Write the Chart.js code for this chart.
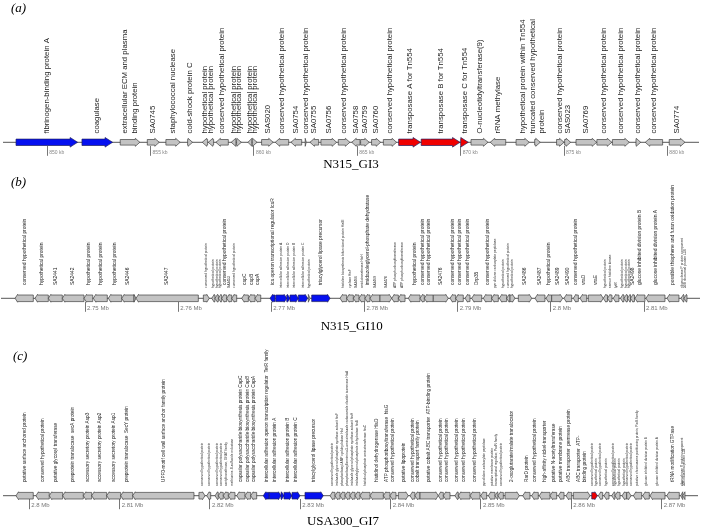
<!DOCTYPE html>
<html>
<head>
<meta charset="utf-8">
<script src="https://cdn.jsdelivr.net/npm/chart.js@4.4.0/dist/chart.umd.min.js"></script>
<style>
  html, body { margin: 0; padding: 0; background: #fff; }
  #wrap { position: relative; width: 702px; height: 529px; }
  #wrap canvas { position: absolute; left: 0; top: 0; }
</style>
</head>
<body>
<div id="wrap">
  <canvas id="gi3" width="702" height="529"></canvas>
  <canvas id="gi10" width="702" height="529"></canvas>
  <canvas id="gi7" width="702" height="529"></canvas>
</div>
<script>
// ---- (a) N315_GI3, positions in kb ----
const gi3Start = [848.49, 851.68, 853.53, 854.84, 855.74, 856.79, 857.50, 857.79, 858.16, 858.90, 859.16, 859.71, 859.92, 860.37, 861.03, 861.79, 862.48, 862.71, 863.24, 864.08, 864.73, 865.16, 865.69, 866.26, 867.00, 868.09, 870.00, 870.50, 871.43, 872.68, 873.58, 874.64, 875.03, 875.58, 876.59, 877.34, 878.48, 878.93, 880.09];
const gi3End = [851.47, 853.16, 854.48, 855.42, 856.43, 857.03, 857.76, 858.05, 858.76, 859.13, 859.39, 859.90, 860.15, 860.93, 861.68, 862.31, 862.53, 863.13, 864.00, 864.64, 865.13, 865.58, 866.13, 866.90, 868.06, 869.97, 870.37, 871.32, 872.18, 873.32, 873.85, 875.00, 875.32, 876.58, 877.31, 878.16, 878.71, 879.77, 880.85];
const gi3Strand = [1, 1, 1, 1, 1, 1, -1, -1, -1, -1, 1, -1, 1, 1, -1, -1, 1, -1, 1, 1, -1, 1, 1, 1, 1, 1, 1, 1, -1, 1, 1, 1, 1, 1, 1, 1, 1, -1, 1];
const gi3Group = ['virulence', 'virulence', 'core', 'core', 'core', 'core', 'core', 'core', 'core', 'core', 'core', 'core', 'core', 'core', 'core', 'core', 'core', 'core', 'core', 'core', 'core', 'core', 'core', 'core', 'mobile', 'mobile', 'mobile', 'core', 'core', 'core', 'core', 'core', 'core', 'core', 'core', 'core', 'core', 'core', 'core'];
const gi3Label = ['fibrinogen-binding protein A', 'coagulase', 'extracellular ECM and plasma\nbinding protein', 'SA0745', 'staphylococcal nuclease', 'cold-shock protein C', 'hypothetical protein', 'hypothetical protein', 'conserved hypothetical protein', 'hypothetical protein', 'hypothetical protein', 'hypothetical protein', 'hypothetical protein', 'SAS020', 'conserved hypothetical protein', 'SA0754', 'conserved hypothetical protein', 'SA0755', 'SA0756', 'conserved hypothetical protein', 'SA0758', 'SA0759', 'SA0760', 'conserved hypothetical protein', 'transposase A for Tn554', 'transposase B for Tn554', 'transposase C for Tn554', 'O-nucleotidyltransferase(9)', 'rRNA methylase', 'hypothetical protein within Tn554', 'truncated conserved hypothetical\nprotein', 'conserved hypothetical protein', 'SAS023', 'SA0769', 'conserved hypothetical protein', 'conserved hypothetical protein', 'conserved hypothetical protein', 'conserved hypothetical protein', 'SA0774'];
const gi3Ticks = [850, 855, 860, 865, 870, 875, 880];
const gi3TickLabels = ['850 kb', '855 kb', '860 kb', '865 kb', '870 kb', '875 kb', '880 kb'];

// ---- (b) N315_GI10, positions in kb ----
const gi10Start = [2742.49, 2744.63, 2746.06, 2747.56, 2749.89, 2750.89, 2752.50, 2753.94, 2755.26, 2755.47, 2762.70, 2763.60, 2763.95, 2764.31, 2764.67, 2765.21, 2765.75, 2766.82, 2767.53, 2768.25, 2769.86, 2770.47, 2771.65, 2772.00, 2772.89, 2773.97, 2774.33, 2777.37, 2778.09, 2778.80, 2779.41, 2780.05, 2780.59, 2781.66, 2782.92, 2783.63, 2784.70, 2785.96, 2786.42, 2787.38, 2789.18, 2789.79, 2790.79, 2791.50, 2792.75, 2793.65, 2794.47, 2795.26, 2795.62, 2796.51, 2798.30, 2799.48, 2800.09, 2801.41, 2802.41, 2803.13, 2804.02, 2805.63, 2806.08, 2806.70, 2807.47, 2807.85, 2808.23, 2808.55, 2809.03, 2810.21, 2812.47, 2813.97, 2814.29];
const gi10End = [2744.45, 2746.06, 2747.56, 2749.89, 2750.83, 2752.39, 2753.94, 2755.26, 2755.47, 2762.16, 2763.34, 2763.95, 2764.31, 2764.67, 2765.21, 2765.75, 2766.28, 2767.53, 2768.25, 2768.86, 2770.39, 2771.65, 2772.00, 2772.89, 2773.90, 2774.15, 2776.30, 2778.09, 2778.80, 2779.41, 2780.05, 2780.59, 2781.66, 2782.92, 2783.63, 2784.35, 2785.96, 2786.42, 2787.38, 2788.99, 2789.79, 2790.60, 2791.32, 2792.58, 2793.65, 2794.36, 2795.26, 2795.62, 2796.15, 2797.95, 2799.37, 2800.09, 2801.27, 2802.24, 2802.95, 2803.85, 2805.63, 2806.08, 2806.56, 2807.31, 2807.85, 2808.23, 2808.55, 2808.98, 2810.10, 2812.25, 2813.75, 2814.29, 2814.61];
const gi10Strand = [-1, -1, -1, -1, -1, -1, -1, -1, 1, -1, 1, -1, -1, -1, -1, -1, -1, -1, -1, -1, -1, 1, 1, 1, 1, 1, 1, -1, -1, -1, -1, -1, -1, 1, -1, -1, -1, -1, -1, 1, -1, -1, -1, -1, -1, -1, -1, -1, 1, 1, -1, -1, 1, -1, -1, -1, 1, -1, -1, -1, -1, -1, -1, -1, -1, -1, -1, -1, -1];
const gi10Group = ['core', 'core', 'core', 'core', 'core', 'core', 'core', 'core', 'core', 'core', 'core', 'core', 'core', 'core', 'core', 'core', 'core', 'core', 'core', 'core', 'virulence', 'virulence', 'virulence', 'virulence', 'virulence', 'core', 'virulence', 'core', 'core', 'core', 'core', 'core', 'core', 'core', 'core', 'core', 'core', 'core', 'core', 'core', 'core', 'core', 'core', 'core', 'core', 'core', 'core', 'core', 'core', 'core', 'core', 'core', 'core', 'core', 'core', 'core', 'core', 'core', 'core', 'core', 'core', 'core', 'core', 'core', 'core', 'core', 'core', 'core', 'core'];
const gi10Label = ['conserved hypothetical protein', 'hypothetical protein', 'SA2441', 'SA2442', 'hypothetical protein', 'hypothetical protein', 'hypothetical protein', 'SA2446', '', 'SA2447', 'conserved hypothetical protein', 'hypothetical protein', 'hypothetical protein', 'hypothetical protein', 'conserved hypothetical protein', 'SA2453', 'conserved hypothetical protein', 'capC', 'capB', 'capA', 'ica operon transcriptional regulator IcaR', 'intercellular adhesion protein A', 'intercellular adhesion protein D', 'intercellular adhesion protein B', 'intercellular adhesion protein C', 'hypothetical protein', 'triacylglycerol lipase precursor', 'histidine biosynthesis bifunctional protein HisIE', 'cyclase HisF', 'SA2466', 'amidotransferase HisH', 'imidazoleglycerol-phosphate dehydratase', 'SA2469', 'SA2470', 'ATP phosphoribosyltransferase', 'ATP phosphoribosyltransferase', 'hypothetical protein', 'conserved hypothetical protein', 'conserved hypothetical protein', 'SA2476', 'conserved hypothetical protein', 'conserved hypothetical protein', 'conserved hypothetical protein', 'Drp35', 'conserved hypothetical protein', 'pyrrolidone carboxylate peptidase', 'hypothetical protein', 'conserved hypothetical protein', 'hypothetical protein', 'SA2486', 'SA2487', 'hypothetical protein', 'SA2489', 'SA2490', 'conserved hypothetical protein', 'vraD', 'vraE', 'hypothetical protein', 'sensor histidine kinase', 'lytR', 'hypothetical protein', 'hypothetical protein', 'hypothetical protein', 'SA2498', 'glucose inhibited division protein B', 'glucose inhibited division protein A', 'possible thiophene and furan oxidation protein', 'ribonuclease P protein component', '50S ribosomal protein L34'];
const gi10Ticks = [2750, 2760, 2770, 2780, 2790, 2800, 2810];
const gi10TickLabels = ['2.75 Mb', '2.76 Mb', '2.77 Mb', '2.78 Mb', '2.79 Mb', '2.8 Mb', '2.81 Mb'];

// ---- (c) USA300_GI7, positions in kb ----
const gi7Start = [2798.53, 2800.74, 2802.21, 2803.70, 2805.98, 2806.91, 2808.57, 2810.12, 2811.45, 2818.78, 2819.64, 2820.56, 2820.92, 2821.47, 2822.03, 2822.96, 2823.88, 2824.51, 2825.90, 2826.56, 2827.86, 2828.19, 2829.08, 2830.52, 2833.29, 2833.84, 2834.40, 2834.95, 2835.50, 2836.06, 2836.61, 2837.72, 2839.19, 2839.93, 2840.85, 2842.14, 2842.69, 2843.25, 2845.27, 2845.83, 2847.12, 2847.49, 2848.79, 2849.97, 2850.81, 2851.55, 2851.88, 2852.66, 2854.62, 2855.61, 2856.45, 2857.64, 2858.56, 2859.41, 2860.22, 2862.26, 2862.99, 2863.61, 2864.47, 2864.83, 2865.61, 2866.13, 2866.87, 2867.90, 2868.71, 2870.56, 2872.11, 2872.33];
const gi7End = [2800.44, 2802.21, 2803.70, 2805.98, 2806.91, 2808.57, 2810.12, 2811.45, 2818.23, 2819.45, 2820.08, 2820.92, 2821.47, 2822.03, 2822.77, 2823.88, 2824.51, 2825.17, 2826.56, 2827.86, 2828.19, 2829.08, 2829.96, 2832.54, 2833.84, 2834.40, 2834.95, 2835.50, 2836.06, 2836.61, 2837.72, 2839.19, 2839.93, 2840.59, 2841.95, 2842.69, 2843.25, 2845.27, 2845.83, 2846.57, 2847.49, 2848.79, 2849.89, 2850.63, 2851.55, 2851.88, 2852.47, 2854.24, 2855.42, 2856.34, 2857.64, 2858.38, 2859.19, 2860.04, 2862.07, 2862.88, 2863.47, 2864.17, 2864.83, 2865.39, 2866.13, 2866.61, 2867.79, 2868.63, 2870.37, 2871.95, 2872.33, 2872.58];
const gi7Strand = [-1, -1, -1, -1, -1, -1, -1, -1, -1, 1, -1, -1, -1, -1, -1, -1, -1, -1, -1, 1, 1, 1, 1, 1, -1, -1, -1, -1, -1, -1, -1, -1, -1, -1, 1, -1, -1, 1, -1, -1, -1, -1, -1, -1, -1, -1, -1, 1, -1, -1, -1, -1, -1, -1, 1, 1, -1, -1, -1, -1, -1, 1, -1, -1, -1, -1, -1, -1];
const gi7Group = ['core', 'core', 'core', 'core', 'core', 'core', 'core', 'core', 'core', 'core', 'core', 'core', 'core', 'core', 'core', 'core', 'core', 'core', 'virulence', 'virulence', 'virulence', 'virulence', 'virulence', 'virulence', 'core', 'core', 'core', 'core', 'core', 'core', 'core', 'core', 'core', 'core', 'core', 'core', 'core', 'core', 'core', 'core', 'core', 'core', 'core', 'core', 'core', 'core', 'core', 'core', 'core', 'core', 'core', 'core', 'core', 'core', 'core', 'mobile', 'core', 'core', 'core', 'core', 'core', 'core', 'core', 'core', 'core', 'core', 'core', 'core'];
const gi7Label = ['putative surface anchored protein', 'conserved hypothetical protein', 'putative glycosyl transferase', 'preprotein translocase  secA protein', 'accessory secretory protein Asp3', 'accessory secretory protein Asp2', 'accessory secretory protein Asp1', 'preprotein translocase  SecY protein', 'UPF0-motif cell wall surface anchor family protein', 'conserved hypothetical protein', 'conserved hypothetical protein', 'conserved hypothetical protein', 'conserved hypothetical protein', 'acetyltransferase, GNAT family', 'methionine-S-sulfoxide reductase', 'capsular polysaccharide biosynthesis protein CapC', 'capsular polysaccharide biosynthesis protein CapB', 'capsular polysaccharide biosynthesis protein CapA', 'intercellular adhesion operon transcription regulator  TetR family', 'intercellular adhesion protein A', '', 'intercellular adhesion protein B', 'intercellular adhesion protein C', 'triacylglycerol lipase precursor', 'conserved hypothetical protein', 'imidazole glycerol phosphate synthase subunit hisF', 'phosphoribosyl-AMP cyclohydrolase HisI', 'phosphoribosylformimino-5-aminoimidazole carboxamide ribotide isomerase HisA', 'imidazole glycerol phosphate synthase subunit hisH', 'imidazoleglycerol-phosphate dehydratase hisB', 'histidinol-phosphate aminotransferase hisC', 'histidinol dehydrogenase HisD', 'ATP phosphoribosyltransferase  hisG', 'conserved hypothetical protein', 'putative lipoprotein', 'conserved hypothetical protein', 'cobalt transport family protein', 'putative cobalt ABC transporter  ATP-binding protein', 'conserved hypothetical protein', 'conserved hypothetical protein', 'conserved hypothetical protein', 'conserved hypothetical protein', 'conserved hypothetical protein', 'pyrrolidone-carboxylate peptidase', 'putative membrane protein', 'transcriptional regulator, PadR family', 'conserved hypothetical protein', '2-oxoglutarate/malate translocator', 'RarD protein', 'conserved hypothetical protein', 'high-affinity nickel-transporter', 'putative N-acetyltransferase', 'putative membrane protein', 'ABC transporter  permease protein', 'ABC transporter  ATP-\nbinding protein', 'conserved hypothetical protein\nhypothetical protein', 'conserved hypothetical protein', 'hypothetical protein', 'conserved hypothetical protein', 'hypothetical protein\nhypothetical protein', 'hypothetical protein', 'conserved hypothetical protein\nconserved hypothetical protein', 'putative chromosome partitioning protein, ParB family', 'glucose inhibited division protein B', 'glucose inhibited division protein A', 'tRNA modification GTPase', 'ribonuclease P protein component', '50S ribosomal protein L34'];
const gi7Ticks = [2800, 2810, 2820, 2830, 2840, 2850, 2860, 2870];
const gi7TickLabels = ['2.8 Mb', '2.81 Mb', '2.82 Mb', '2.83 Mb', '2.84 Mb', '2.85 Mb', '2.86 Mb', '2.87 Mb'];

// ---- styles ----
const fills = { core: '#c3c3c3', virulence: '#0510f0', mobile: '#f00000' };
const SANS = '"Liberation Sans", Arial, sans-serif';
const SERIF = '"Liberation Serif", "Times New Roman", serif';

// 패널별 배치
const layouts = {
  gi3: { row: 142.3, left: 3, right: 699, min: 847.86, max: 881.53,
    base: 133.5, smallBase: 133.5, size: 7.8, smallSize: 7.8, small: [],
    body: 2.8, head: 4, hl: 4.5, hiBody: 3.2, hiHead: 4.8, hiHl: 7.5,
    tickFont: 5, tickPad: -6.3, tickColor: '#888',
    caption: 'N315_GI3', capX: 351, capY: 165, letter: '(a)', letX: 11, letY: 9 },
  gi10: { row: 298.3, left: 1, right: 700, min: 2740.98, max: 2816.01,
    base: 285, smallBase: 288, size: 4.9, smallSize: 3.3,
    small: [10, 11, 12, 13, 15, 16, 21, 22, 23, 24, 25, 27, 28, 29, 30, 32, 33, 34, 35, 45, 46, 47, 48, 57, 58, 59, 60, 61, 62, 67, 68],
    body: 3.3, head: 3.9, hl: 2.5, hiBody: 3.3, hiHead: 3.9, hiHl: 2.5,
    tickFont: 6, tickPad: -7.3, tickColor: '#777',
    caption: 'N315_GI10', capX: 351.7, capY: 326.7, letter: '(b)', letX: 11, letY: 183 },
  gi7: { row: 495.7, left: 3, right: 698, min: 2797.09, max: 2874.02,
    base: 482, smallBase: 486, size: 4.7, smallSize: 3.2,
    small: [9, 10, 11, 12, 13, 14, 24, 25, 26, 27, 28, 29, 30, 43, 44, 45, 46, 55, 56, 57, 58, 59, 60, 61, 62, 63, 64, 66, 67],
    body: 3.3, head: 3.9, hl: 2.5, hiBody: 3.3, hiHead: 3.9, hiHl: 2.5,
    tickFont: 6, tickPad: -7.4, tickColor: '#777',
    caption: 'USA300_GI7', capX: 343, capY: 522, letter: '(c)', letX: 13, letY: 357 }
};

function arrowPath(ctx, x0, x1, y, body, head, hl, strand) {
  hl = Math.min(hl, x1 - x0);
  ctx.beginPath();
  if (strand > 0) {
    const n = x1 - hl;
    ctx.moveTo(x0, y - body);
    ctx.lineTo(n, y - body);
    ctx.lineTo(n, y - head);
    ctx.lineTo(x1, y);
    ctx.lineTo(n, y + head);
    ctx.lineTo(n, y + body);
    ctx.lineTo(x0, y + body);
  } else {
    const n = x0 + hl;
    ctx.moveTo(x1, y - body);
    ctx.lineTo(n, y - body);
    ctx.lineTo(n, y - head);
    ctx.lineTo(x0, y);
    ctx.lineTo(n, y + head);
    ctx.lineTo(n, y + body);
    ctx.lineTo(x1, y + body);
  }
  ctx.closePath();
}

// 막대 요소 위치로 화살표 + 라벨 그리기
function genePlugin(L) {
  return {
    id: 'geneMap',
    beforeDatasetDraw() { return false; },
    afterDatasetsDraw(chart) {
      const ctx = chart.ctx, area = chart.chartArea;
      const ds = chart.data.datasets[0];
      const bars = chart.getDatasetMeta(0).data;
      ctx.save();
      ctx.strokeStyle = '#555';
      ctx.lineWidth = 1;
      ctx.beginPath();
      ctx.moveTo(area.left, L.row);
      ctx.lineTo(area.right, L.row);
      ctx.stroke();

      bars.forEach((bar, i) => {
        const x0 = Math.min(bar.x, bar.base), x1 = Math.max(bar.x, bar.base);
        const hi = ds.group[i] !== 'core';
        arrowPath(ctx, x0, x1, bar.y, hi ? L.hiBody : L.body, hi ? L.hiHead : L.head,
          hi ? L.hiHl : L.hl, ds.strand[i]);
        ctx.fillStyle = fills[ds.group[i]];
        ctx.fill();
        ctx.lineWidth = 0.7;
        ctx.strokeStyle = hi ? '#202060' : '#404040';
        ctx.stroke();

        const lines = ds.names[i] ? ds.names[i].split('\n') : [];
        if (!lines.length) return;
        const small = L.small.includes(i);
        const fs = small ? L.smallSize : L.size;
        ctx.save();
        ctx.translate((x0 + x1) / 2, small ? L.smallBase : L.base);
        ctx.rotate(-Math.PI / 2);
        ctx.font = fs + 'px ' + SANS;
        ctx.fillStyle = '#222';
        ctx.textAlign = 'left';
        ctx.textBaseline = 'middle';
        lines.forEach((t, k) => ctx.fillText(t, 0, (k - (lines.length - 1) / 2) * fs * 1.25));
        ctx.restore();
      });

      ctx.fillStyle = '#000';
      ctx.textBaseline = 'middle';
      ctx.font = '13px ' + SERIF;
      ctx.textAlign = 'center';
      ctx.fillText(L.caption, L.capX, L.capY);
      ctx.font = 'italic 13px ' + SERIF;
      ctx.textAlign = 'left';
      ctx.fillText(L.letter, L.letX, L.letY);
      ctx.restore();
    }
  };
}

function geneMap(id, starts, ends, strands, groups, names, ticks, tickLabels) {
  const L = layouts[id];
  const axisH = 20;
  return new Chart(document.getElementById(id), {
    type: 'bar',
    data: {
      datasets: [{
        data: starts.map((s, i) => ({ x: [s, ends[i]], y: 0.5 })),
        strand: strands,
        group: groups,
        names: names,
        barThickness: 7
      }]
    },
    options: {
      indexAxis: 'y',
      responsive: false,
      animation: false,
      events: [],
      layout: {
        padding: { left: L.left, right: 702 - L.right, top: L.row - 3.5, bottom: 529 - (L.row + 3.5) - axisH }
      },
      scales: {
        x: {
          type: 'linear',
          min: L.min,
          max: L.max,
          afterBuildTicks: s => { s.ticks = ticks.map(v => ({ value: v })); },
          afterFit: s => { s.height = axisH; },
          border: { display: false },
          grid: { drawOnChartArea: false, tickLength: 10, tickColor: '#777', tickWidth: 1 },
          ticks: {
            autoSkip: false, maxRotation: 0, align: 'start', labelOffset: 2,
            padding: L.tickPad, color: L.tickColor,
            font: { family: SANS, size: L.tickFont },
            callback: (v, i) => tickLabels[i]
          }
        },
        y: { type: 'linear', min: 0, max: 1, display: false }
      },
      plugins: { legend: { display: false }, tooltip: { enabled: false } }
    },
    plugins: [genePlugin(L)]
  });
}

geneMap('gi3', gi3Start, gi3End, gi3Strand, gi3Group, gi3Label, gi3Ticks, gi3TickLabels);
geneMap('gi10', gi10Start, gi10End, gi10Strand, gi10Group, gi10Label, gi10Ticks, gi10TickLabels);
geneMap('gi7', gi7Start, gi7End, gi7Strand, gi7Group, gi7Label, gi7Ticks, gi7TickLabels);
</script>
</body>
</html>
